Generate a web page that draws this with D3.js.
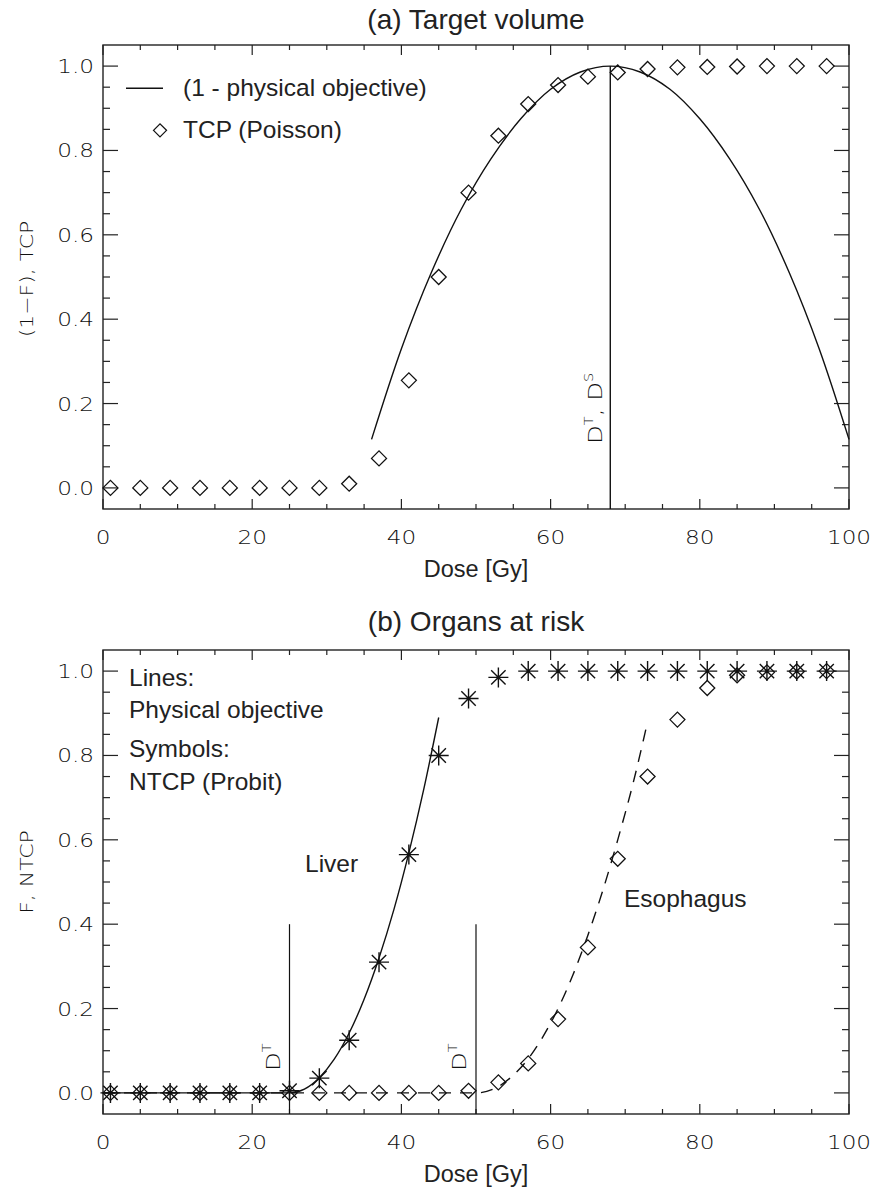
<!DOCTYPE html>
<html><head><meta charset="utf-8">
<script src="https://cdn.jsdelivr.net/npm/d3@7"></script>
<style>
body{margin:0;background:#fff}
svg{display:block}
.hf{font-family:"DejaVu Sans",sans-serif;font-weight:200;fill:#111}
.helv{font-family:"Liberation Sans",Arial,sans-serif;fill:#222}
</style></head>
<body>
<svg id="chart" width="875" height="1189"></svg>
<script>
// ---------- data ----------
const doseTicks = [0, 20, 40, 60, 80, 100];
const probTicks = [0.0, 0.2, 0.4, 0.6, 0.8, 1.0];
const symDose = [1,5,9,13,17,21,25,29,33,37,41,45,49,53,57,61,65,69,73,77,81,85,89,93,97];

// (a) target volume
const tcp = [0,0,0,0,0,0,0,0,0.01,0.07,0.255,0.50,0.70,0.835,0.91,0.955,0.975,0.985,0.993,0.997,0.998,0.999,1.0,1.0,1.0];
const objTargetDose = [36,40,44,48,52,56,60,64,68,72,76,80,84,88,92,96,100];
const objTarget     = [0.115,0.33,0.51,0.66,0.78,0.875,0.945,0.986,1.0,0.986,0.945,0.875,0.78,0.66,0.51,0.33,0.115];
const targetDT = 68;

// (b) organs at risk
const ntcpLiver = [0,0,0,0,0,0,0.005,0.035,0.125,0.31,0.565,0.80,0.935,0.985,1,1,1,1,1,1,1,1,1,1,1];
const ntcpEsoph = [0,0,0,0,0,0,0,0,0,0,0,0,0.005,0.025,0.07,0.175,0.345,0.555,0.75,0.885,0.96,0.99,0.997,0.999,1.0];
const objLiverDose = [0,25,27,29,31,33,35,37,39,41,43,45];
const objLiver     = [0,0,0.009,0.036,0.08,0.142,0.222,0.32,0.435,0.569,0.72,0.89];
const objEsophDose = [0,50,53,55,57,59,61,63,65,67,69,71,73];
const objEsoph     = [0,0,0.015,0.042,0.081,0.134,0.2,0.28,0.374,0.48,0.6,0.73,0.88];
const oarDT = [25, 50];

// ---------- layout ----------
const svg = d3.select("#chart");
const X0 = 103, X1 = 849;
const x = d3.scaleLinear().domain([0,100]).range([X0,X1]);
const HS = 1.22; // horizontal stretch for the thin axis font
const panels = [
  {top:45, title:"(a) Target volume", titleY:29, ylab:"(1\u2212F), TCP", ylabY:279},
  {top:650, title:"(b) Organs at risk", titleY:631, ylab:"F, NTCP", ylabY:872}
];
panels.forEach(p=>{
  p.y = d3.scaleLinear().domain([-0.05,1.05]).range([p.top+464, p.top]);
  p.bottom = p.top+464;
});

function hText(g, px, py, s, size, anchor, rot){
  return g.append("text").attr("class","hf").attr("font-size",size)
    .attr("text-anchor",anchor||"start")
    .attr("transform",`translate(${px},${py})${rot?` rotate(${rot})`:""} scale(${HS},1)`)
    .text(s);
}

function drawFrame(p){
  const g = svg.append("g");
  const y = p.y;
  g.append("rect").attr("x",X0).attr("y",p.top).attr("width",X1-X0).attr("height",p.bottom-p.top)
    .attr("fill","none").attr("stroke","#222").attr("stroke-width",1.4);
  d3.range(0,101,5).forEach(v=>{
    const L = v%20===0?10:5;
    g.append("line").attr("x1",x(v)).attr("x2",x(v)).attr("y1",p.bottom).attr("y2",p.bottom-L).attr("stroke","#222").attr("stroke-width",1.2);
    g.append("line").attr("x1",x(v)).attr("x2",x(v)).attr("y1",p.top).attr("y2",p.top+L).attr("stroke","#222").attr("stroke-width",1.2);
  });
  d3.range(0,21).map(i=>i*0.05).forEach(v=>{
    const L = Math.round(v*100)%20===0?15:7;
    g.append("line").attr("x1",X0).attr("x2",X0+L).attr("y1",y(v)).attr("y2",y(v)).attr("stroke","#222").attr("stroke-width",1.2);
    g.append("line").attr("x1",X1).attr("x2",X1-L).attr("y1",y(v)).attr("y2",y(v)).attr("stroke","#222").attr("stroke-width",1.2);
  });
  doseTicks.forEach(v=>hText(g, x(v), p.bottom+35, String(v), 19, "middle"));
  probTicks.forEach(v=>hText(g, 94, y(v)+7, v.toFixed(1), 19, "end"));
  g.append("text").attr("class","helv").attr("x",476).attr("y",p.bottom+68)
    .attr("text-anchor","middle").attr("font-size",23.5).text("Dose [Gy]");
  g.append("text").attr("class","helv").attr("x",476).attr("y",p.titleY)
    .attr("text-anchor","middle").attr("font-size",28).text(p.title);
  hText(g, 33, p.ylabY, p.ylab, 18, "middle", -90);
}
panels.forEach(drawFrame);

function diamond(g, cx, cy, r){
  g.append("path").attr("d",`M${cx-r},${cy}L${cx},${cy-r}L${cx+r},${cy}L${cx},${cy+r}Z`)
    .attr("fill","none").attr("stroke","#111").attr("stroke-width",1.3);
}
function asterisk(g, cx, cy, r){
  const d = r*0.72;
  g.append("path").attr("d",`M${cx-r},${cy}L${cx+r},${cy}M${cx},${cy-r}L${cx},${cy+r}M${cx-d},${cy-d}L${cx+d},${cy+d}M${cx-d},${cy+d}L${cx+d},${cy-d}`)
    .attr("fill","none").attr("stroke","#111").attr("stroke-width",1.4);
}
function dtLabel(g, px, py){
  return g.append("text").attr("class","hf").attr("font-size",20)
    .attr("transform",`translate(${px},${py}) rotate(-90) scale(${HS},1)`);
}

// ---------- panel (a) ----------
{
  const p = panels[0], y = p.y, g = svg.append("g");
  const line = d3.line().x(d=>x(d[0])).y(d=>y(d[1])).curve(d3.curveCatmullRom);
  g.append("path").attr("d",line(objTargetDose.map((d,i)=>[d,objTarget[i]])))
    .attr("fill","none").attr("stroke","#111").attr("stroke-width",1.4);
  g.append("line").attr("x1",x(targetDT)).attr("x2",x(targetDT)).attr("y1",p.bottom).attr("y2",y(1.0))
    .attr("stroke","#111").attr("stroke-width",1.4);
  symDose.forEach((d,i)=>diamond(g,x(d),y(tcp[i]),7.5));
  const t = dtLabel(g, x(targetDT)-8, 444);
  t.append("tspan").text("D");
  t.append("tspan").attr("dy",-9).attr("font-size",12).text("T");
  t.append("tspan").attr("dy",9).text(", D");
  t.append("tspan").attr("dy",-9).attr("font-size",12).text("S");
  // legend
  g.append("line").attr("x1",126).attr("x2",163).attr("y1",y(0.95)+1).attr("y2",y(0.95)+1).attr("stroke","#111").attr("stroke-width",1.4);
  g.append("text").attr("class","helv").attr("x",183).attr("y",y(0.95)+9).attr("font-size",24.5).text("(1 - physical objective)");
  diamond(g,160,y(0.85)+1,6.5);
  g.append("text").attr("class","helv").attr("x",183).attr("y",y(0.85)+9).attr("font-size",24.5).text("TCP (Poisson)");
}

// ---------- panel (b) ----------
{
  const p = panels[1], y = p.y, g = svg.append("g");
  const line = d3.line().x(d=>x(d[0])).y(d=>y(d[1])).curve(d3.curveMonotoneX);
  g.append("path").attr("d",line(objLiverDose.map((d,i)=>[d,objLiver[i]])))
    .attr("fill","none").attr("stroke","#111").attr("stroke-width",1.4);
  g.append("path").attr("d",line(objEsophDose.map((d,i)=>[d,objEsoph[i]])))
    .attr("fill","none").attr("stroke","#111").attr("stroke-width",1.4).attr("stroke-dasharray","12,9");
  oarDT.forEach(d=>{
    g.append("line").attr("x1",x(d)).attr("x2",x(d)).attr("y1",p.bottom).attr("y2",y(0.4))
      .attr("stroke","#111").attr("stroke-width",1.2);
    const t = dtLabel(g, x(d)-10, 1071);
    t.append("tspan").text("D");
    t.append("tspan").attr("dy",-9).attr("font-size",12).text("T");
  });
  symDose.forEach((d,i)=>diamond(g,x(d),y(ntcpEsoph[i]),7.5));
  symDose.forEach((d,i)=>asterisk(g,x(d),y(ntcpLiver[i]),10));
  const lines = [["Lines:",686],["Physical objective",718],["Symbols:",757],["NTCP (Probit)",790]];
  lines.forEach(([s,yy])=>g.append("text").attr("class","helv").attr("x",129).attr("y",yy).attr("font-size",24.5).text(s));
  g.append("text").attr("class","helv").attr("x",305).attr("y",872).attr("font-size",24.5).text("Liver");
  g.append("text").attr("class","helv").attr("x",624).attr("y",907).attr("font-size",24.5).text("Esophagus");
}
</script>
</body></html>
